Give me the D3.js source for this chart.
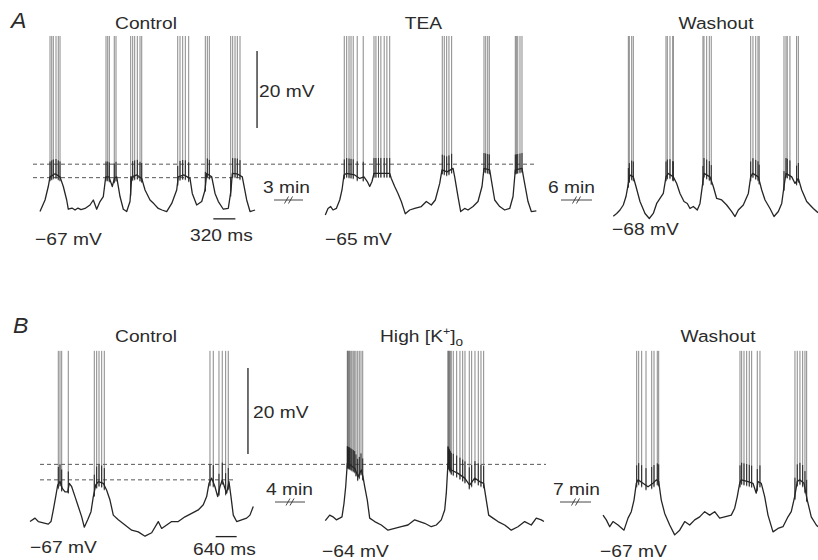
<!DOCTYPE html>
<html>
<head>
<meta charset="utf-8">
<script src="https://cdn.jsdelivr.net/npm/d3@7"></script>
<style>
  body { margin: 0; background: #fff; }
  svg { display: block; }
</style>
</head>
<body>
<div id="fig"></div>
<script>
// membrane potential traces, [time (ms), potential (mV)]
const ctrlA = [[0,-67.4],[73,-64.4],[120,-60.9],[145,-58.4],[218,-57.6],[290,-58.4],[338,-60.9],[387,-64.4],[410,-66.8],
  [464,-66.5],[508,-67],[551,-66.5],[595,-66.9],[653,-66.6],[725,-65.7],[773,-64.4],[822,-66.8],[870,-64.8],[918,-63.5],
  [953,-58.4],[1000,-58.4],[1048,-60.9],[1080,-58.7],[1112,-58.4],[1160,-63.5],[1208,-66.8],[1257,-67.4],[1305,-64.8],
  [1330,-58.4],[1406,-57.9],[1475,-58.8],[1523,-61.8],[1595,-64.4],[1653,-65.4],[1715,-66.6],[1769,-67],[1837,-67.4],
  [1910,-65.3],[1982,-61.8],[2005,-58.4],[2088,-57.9],[2175,-58.8],[2208,-62.7],[2272,-65.7],[2345,-64.8],[2393,-61.8],
  [2417,-57.5],[2490,-58.4],[2538,-62.7],[2586,-64.8],[2658,-66.8],[2730,-66.6],[2770,-61.8],[2788,-57.5],[2857,-57.6],
  [2933,-58.4],[2997,-64.4],[3045,-67.4],[3118,-67]];
const ctrlASpikes = [145,170,193,232,265,290, 957,982,1005,1077,1102, 1315,1344,1373,1411,1450,1475,
  1997,2030,2069,2107,2156, 2397,2426,2455, 2765,2794,2828,2861,2900];

const teaA = [[0,-68.3],[39,-66.6],[78,-66.1],[112,-67],[160,-66.6],[209,-64.4],[242,-61.8],[271,-57.9],[305,-57.5],
  [426,-57.9],[499,-58.8],[561,-58.4],[609,-59.6],[644,-60.9],[677,-59.6],[706,-57.5],[812,-57.5],[934,-57.5],[957,-58.8],
  [1006,-60.9],[1054,-62.7],[1102,-64.8],[1160,-68],[1224,-67],[1296,-66.6],[1392,-66.1],[1465,-64.8],[1537,-65.7],
  [1595,-64.4],[1659,-60.1],[1692,-56.6],[1765,-57.1],[1852,-56.2],[1876,-58.4],[1924,-63.5],[1963,-67.4],[2021,-66.6],
  [2069,-67],[2142,-66.1],[2214,-64.8],[2272,-60.9],[2301,-56.2],[2384,-56.6],[2407,-59.2],[2456,-64.4],[2529,-66.1],
  [2601,-67],[2674,-66.6],[2722,-63.5],[2755,-56.6],[2852,-56.2],[2881,-59.2],[2939,-64.8],[2987,-67.4],[3060,-67.2]];
const teaASpikes = [275,310,344,373,405,463,550, 706,734,771,806,854,893,934,
  1696,1725,1760,1793,1832, 2301,2326,2355,2378, 2755,2770,2790,2823,2852];

const washA = [[0,-68.6],[49,-67.9],[97,-67],[145,-65.7],[184,-63.5],[218,-60.1],[242,-57.9],[290,-58.4],[329,-60.9],
  [387,-64.8],[460,-67.9],[522,-69.2],[580,-67.9],[629,-65.3],[677,-64],[725,-62.7],[764,-58.4],[798,-57.5],[870,-58.4],
  [919,-60.1],[967,-62.7],[1025,-64.8],[1073,-65.3],[1112,-66.6],[1160,-66.1],[1218,-67],[1257,-65.3],[1296,-60.1],
  [1315,-57.5],[1402,-58.4],[1450,-60.9],[1499,-64],[1572,-64.4],[1644,-65.7],[1717,-67.4],[1765,-68.7],[1813,-67],
  [1885,-65.7],[1958,-62.7],[1992,-58.4],[2021,-57.5],[2103,-58.4],[2152,-61.8],[2200,-64.4],[2272,-66.6],[2330,-68.7],
  [2393,-67.4],[2442,-65.3],[2475,-60.9],[2504,-57.5],[2587,-58.4],[2635,-60.1],[2683,-58.8],[2732,-61.8],[2804,-64.8],
  [2900,-66.6],[2968,-67.7]];
const washASpikes = [218,232,267,290, 764,783,822,862,870, 1300,1315,1354,1392,1420,
  1992,2025,2065,2098,2115, 2475,2504,2522,2561,2658,2683];

const ctrlB = [[0,-66.2],[153,-65.4],[253,-66.2],[406,-66.5],[558,-66.8],[641,-66.2],[711,-63.5],[784,-60.4],[845,-57.7],
  [915,-56.9],[985,-58.5],[1068,-59.3],[1150,-59.3],[1199,-57.3],[1272,-58.1],[1373,-60.4],[1473,-62.7],[1577,-65.1],
  [1656,-67.5],[1760,-65.8],[1861,-63.9],[1931,-60.4],[2004,-57.7],[2083,-56.9],[2236,-57.3],[2339,-58.9],[2440,-61.2],
  [2541,-64.7],[2693,-65.8],[2898,-67],[3102,-68.2],[3303,-68.6],[3508,-69.6],[3712,-68.8],[3913,-66.2],[4017,-67.8],
  [4169,-67],[4322,-66.2],[4523,-66.2],[4728,-65.1],[4932,-64.3],[5133,-63.5],[5286,-62.3],[5389,-60.4],[5460,-57.3],
  [5542,-56.1],[5643,-58.1],[5725,-60.4],[5795,-58.1],[5865,-56.5],[5948,-58.5],[5999,-59.6],[6070,-56.9],[6131,-60.4],
  [6201,-64.7],[6304,-66.2],[6457,-65.8],[6609,-65.4],[6710,-64.7],[6811,-62.7]];
const ctrlBSpikes = [863,915,967,1168, 1961,2034,2105,2187,2266, 5490,5591,5765,5865,5969,6048];

const highK = [[0,-66],[134,-64.7],[235,-65.1],[336,-65.8],[439,-65.4],[509,-65.1],[570,-62],[622,-58.1],[671,-52.7],
  [744,-53],[897,-53.8],[997,-55.8],[1098,-54.2],[1150,-55.8],[1202,-58.1],[1281,-61.2],[1354,-65.4],[1507,-66.2],
  [1708,-67],[1912,-68.2],[2117,-67.8],[2318,-67.4],[2522,-67],[2727,-65.8],[2879,-66.2],[3032,-66.6],[3233,-67.4],
  [3386,-67],[3538,-65.8],[3642,-63.5],[3691,-59.6],[3742,-52.7],[3843,-54.2],[4047,-55],[4252,-56.1],[4404,-57.7],
  [4557,-56.1],[4709,-56.9],[4831,-57.3],[4911,-61.2],[4984,-64.7],[5115,-65.4],[5267,-66.2],[5472,-67],[5673,-68.2],
  [5877,-67.4],[6082,-66.2],[6283,-67],[6436,-65.4],[6588,-65.8],[6670,-66.2]];
const highKSpikes = [671,680,692,714,732,753,784,814,854,897,936,988,1037,1089,1141,
  3742,3750,3764,3788,3813,3843,3904,4008,4108,4191,4261,4392,4465,4566,4667,4749,4831];

const washB = [[0,-64.7],[101,-65.8],[204,-67.4],[305,-66.2],[458,-67],[641,-68.2],[763,-65.4],[863,-63.9],[946,-61.2],
  [1016,-57.3],[1068,-56.5],[1220,-57.3],[1373,-58.1],[1525,-57.3],[1626,-56.5],[1699,-56.9],[1778,-61.2],[1882,-64.3],
  [2034,-67],[2187,-69.3],[2339,-68.2],[2492,-66.2],[2644,-67],[2797,-65.8],[2949,-65.1],[3102,-63.9],[3254,-64.7],
  [3407,-63.9],[3559,-65.4],[3712,-65.1],[3913,-64.7],[4017,-63.1],[4096,-60.4],[4169,-57.3],[4218,-56.5],[4423,-56.9],
  [4575,-57.3],[4675,-59.6],[4727,-56.9],[4828,-57.3],[4932,-60.4],[5033,-64.7],[5185,-68.6],[5338,-67.8],[5490,-67.4],
  [5643,-65.1],[5743,-63.9],[5847,-60.4],[5926,-56.9],[5999,-56.5],[6131,-57.3],[6231,-61.2],[6353,-65.1],[6506,-67],
  [6558,-67.4]];
const washBSpikes = [1028,1089,1180,1312,1486,1556,1656,1699, 4179,4230,4301,4383,4462,4535,4706,4788,
  5856,5926,6008,6091,6161,6213];

// dashed reference levels (mV) and the clipped spike tops
const levelsA = [-55.1, -58.6];
const levelsB = [-52.9, -56.5];
const spikeTopA = -21.8, spikeTopB = -26.5;

// calibration bars
const timeBarA = 320, timeBarB = 640;     // ms
const voltBar = 20;                        // mV

const width = 818, height = 560;
const svg = d3.select('#fig').append('svg')
  .attr('width', width)
  .attr('height', height)
  .style('font-family', '"Liberation Sans", Arial, Helvetica, sans-serif');

svg.append('rect').attr('width', width).attr('height', height).attr('fill', '#fff');

// one voltage scale per row, one time scale per trace
const yA = d3.scaleLinear().domain([-67, -47]).range([210, 133]);
const yB = d3.scaleLinear().domain([-67, -47]).range([525, 439]);

function timeScale(x0, ms, px) {
  return d3.scaleLinear().domain([0, ms]).range([x0, x0 + px]);
}

const panels = [
  {trace: ctrlA, spikes: ctrlASpikes, x: timeScale(40, timeBarA, 22.07), y: yA, top: spikeTopA},
  {trace: teaA, spikes: teaASpikes, x: timeScale(325.3, timeBarA, 22.07), y: yA, top: spikeTopA},
  {trace: washA, spikes: washASpikes, x: timeScale(613.3, timeBarA, 22.07), y: yA, top: spikeTopA},
  {trace: ctrlB, spikes: ctrlBSpikes, x: timeScale(30, timeBarB, 20.98), y: yB, top: spikeTopB},
  {trace: highK, spikes: highKSpikes, x: timeScale(325.3, timeBarB, 20.98), y: yB, top: spikeTopB},
  {trace: washB, spikes: washBSpikes, x: timeScale(603, timeBarB, 20.98), y: yB, top: spikeTopB}
];

const bisect = d3.bisector(d => d[0]).left;
function vAt(trace, t) {
  const i = bisect(trace, t);
  if (i <= 0) return trace[0][1];
  if (i >= trace.length) return trace[trace.length - 1][1];
  const a = trace[i - 1], b = trace[i];
  return a[1] + (b[1] - a[1]) * (t - a[0]) / (b[0] - a[0]);
}

// dashed threshold lines (drawn first, under the traces)
const dash = svg.append('g')
  .attr('stroke', '#444')
  .attr('stroke-width', 0.9)
  .attr('stroke-dasharray', '4,3');
[[levelsA[0], 33, 536, yA], [levelsA[1], 33, 243, yA],
 [levelsB[0], 40, 546, yB], [levelsB[1], 40, 235, yB]].forEach(([v, x1, x2, y]) => {
  dash.append('line').attr('x1', x1).attr('x2', x2).attr('y1', y(v)).attr('y2', y(v));
});

panels.forEach(p => {
  const g = svg.append('g');

  // spikes: thin vertical strokes, clipped at the top of the record
  g.selectAll('line.spike')
    .data(p.spikes)
    .join('line')
    .attr('class', 'spike')
    .attr('x1', d => p.x(d))
    .attr('x2', d => p.x(d))
    .attr('y1', d => p.y(vAt(p.trace, d) - 1.2))
    .attr('y2', p.y(p.top))
    .attr('stroke', '#6a6a6a')
    .attr('stroke-width', 0.8);

  // darker foot of each spike
  g.selectAll('line.foot')
    .data(p.spikes)
    .join('line')
    .attr('class', 'foot')
    .attr('x1', d => p.x(d))
    .attr('x2', d => p.x(d))
    .attr('y1', d => p.y(vAt(p.trace, d) - 1))
    .attr('y2', d => p.y(vAt(p.trace, d) + 4))
    .attr('stroke', '#222')
    .attr('stroke-width', 1);

  const line = d3.line()
    .x(d => p.x(d[0]))
    .y(d => p.y(d[1]));

  g.append('path')
    .datum(p.trace)
    .attr('d', line)
    .attr('fill', 'none')
    .attr('stroke', '#262626')
    .attr('stroke-width', 1.3)
    .attr('stroke-linejoin', 'round');
});

// calibration bars
const bars = svg.append('g').attr('stroke', '#222').attr('stroke-width', 1.3);
const xcA = panels[0].x, xcB = panels[3].x;
bars.append('line')
  .attr('x1', xcA(3147)).attr('x2', xcA(3147))
  .attr('y1', yA(-45.7)).attr('y2', yA(-45.7 + voltBar));
bars.append('line')
  .attr('x1', xcA(2513)).attr('x2', xcA(2513 + timeBarA))
  .attr('y1', yA(-69.3)).attr('y2', yA(-69.3));
bars.append('line')
  .attr('x1', xcB(6649)).attr('x2', xcB(6649))
  .attr('y1', yB(-50.5)).attr('y2', yB(-50.5 + voltBar));
bars.append('line')
  .attr('x1', xcB(5664)).attr('x2', xcB(5664 + timeBarB))
  .attr('y1', yB(-69.7)).attr('y2', yB(-69.7));

// time-break symbols  -//-
function breakMark(x1, x2, y) {
  const m = (x1 + x2) / 2;
  const b = svg.append('g').attr('stroke', '#333').attr('stroke-width', 0.9);
  b.append('line').attr('x1', x1).attr('x2', x2).attr('y1', y).attr('y2', y);
  [-2, 2].forEach(k => {
    b.append('line')
      .attr('x1', m + k - 2).attr('y1', y + 3.5)
      .attr('x2', m + k + 2).attr('y2', y - 3.5);
  });
}
breakMark(274, 303, 200);
breakMark(561, 592, 200);
breakMark(275, 305, 502);
breakMark(560, 591, 502);

// text
function label(str, x, y, opts = {}) {
  const t = svg.append('text')
    .attr('transform', `translate(${x},${y}) scale(${opts.sx || 1.13},1)`)
    .attr('text-anchor', opts.anchor || 'start')
    .attr('font-size', opts.size || 17)
    .attr('font-style', opts.italic ? 'italic' : 'normal')
    .attr('fill', '#2b2b2b')
    .text(str);
  return t;
}

label('A', 11, 28, {size: 22, italic: true, sx: 1.05});
label('Control', 146, 29, {anchor: 'middle'});
label('TEA', 423.5, 29, {anchor: 'middle'});
label('Washout', 716, 29, {anchor: 'middle'});
label('20 mV', 259, 97);
label('3 min', 263, 193);
label('6 min', 548, 193);
label('\u221267 mV', 35, 245);
label('320 ms', 190, 241);
label('\u221265 mV', 325, 245);
label('\u221268 mV', 612, 235);

label('B', 13, 333, {size: 22, italic: true, sx: 1.05});
label('Control', 146, 341.5, {anchor: 'middle'});
const hk = label('', 380, 341.5);
hk.append('tspan').text('High [K');
hk.append('tspan').attr('dy', -7).attr('font-size', 11).text('+');
hk.append('tspan').attr('dy', 7).text(']');
hk.append('tspan').attr('dy', 4).attr('font-size', 12).text('o');
label('Washout', 718, 341.5, {anchor: 'middle'});
label('20 mV', 253, 418);
label('4 min', 266, 495);
label('7 min', 553, 495);
label('\u221267 mV', 30, 553);
label('640 ms', 193, 555);
label('\u221264 mV', 322, 557);
label('\u221267 mV', 600, 557);
</script>
</body>
</html>
